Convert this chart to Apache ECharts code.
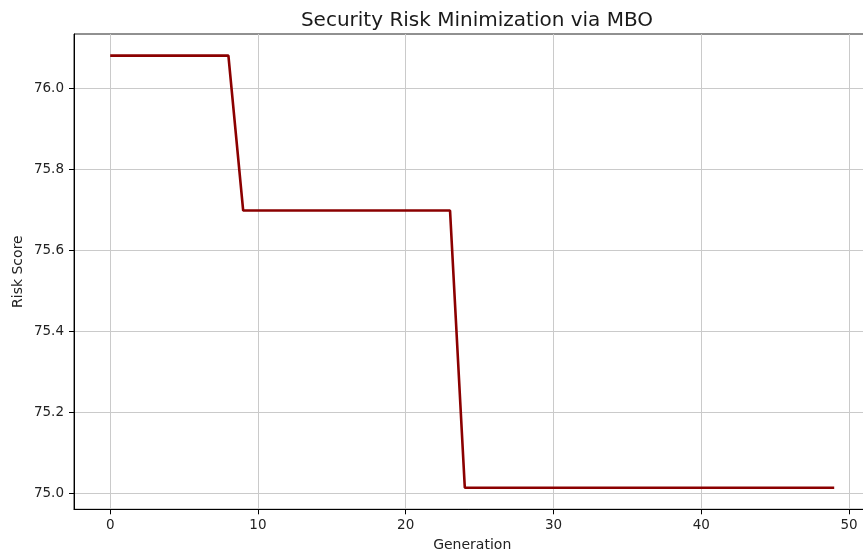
<!DOCTYPE html>
<html>
<head>
<meta charset="utf-8">
<style>
  html, body { margin: 0; padding: 0; background: #fff; }
  #chart { width: 863px; height: 553px; }
</style>
<script src="https://cdn.jsdelivr.net/npm/echarts@6/dist/echarts.min.js"></script>
</head>
<body>
<div id="chart"></div>
<script>
const titleText = 'Security Risk Minimization via MBO';
const xAxisName = 'Generation';
const yAxisName = 'Risk Score';
const generations = Array.from({length: 50}, (_, i) => i);
const riskScores = [
  76.0806, 76.0806, 76.0806, 76.0806, 76.0806, 76.0806, 76.0806, 76.0806, 76.0806,
  75.6985, 75.6985, 75.6985, 75.6985, 75.6985, 75.6985, 75.6985, 75.6985, 75.6985, 75.6985,
  75.6985, 75.6985, 75.6985, 75.6985, 75.6985,
  75.0148, 75.0148, 75.0148, 75.0148, 75.0148, 75.0148, 75.0148, 75.0148, 75.0148, 75.0148,
  75.0148, 75.0148, 75.0148, 75.0148, 75.0148, 75.0148, 75.0148, 75.0148, 75.0148, 75.0148,
  75.0148, 75.0148, 75.0148, 75.0148, 75.0148, 75.0148
];
const xTicks = [0, 10, 20, 30, 40, 50];
const yTicks = [75.0, 75.2, 75.4, 75.6, 75.8, 76.0];

const font = 'DejaVu Sans';
const chart = echarts.init(document.getElementById('chart'), null, {renderer: 'canvas'});

const dataMin = Math.min(...riskScores), dataMax = Math.max(...riskScores);
const yPad = (dataMax - dataMin) * 0.05;
const xPad = (generations[generations.length - 1] - generations[0]) * 0.05;

chart.setOption({
  animation: false,
  backgroundColor: '#fff',
  title: {
    text: titleText,
    left: 472,
    textAlign: 'center',
    top: 6,
    textStyle: { fontFamily: font, fontSize: 20, fontWeight: 'normal', color: '#1a1a1a' }
  },
  grid: {
    left: 74, top: 34, right: -7.4, bottom: 43.7,
    outerBoundsMode: 'none',
    show: true, borderColor: '#222', borderWidth: 1, containLabel: false
  },
  xAxis: {
    type: 'value',
    min: generations[0] - xPad,
    max: generations[generations.length - 1] + xPad,
    name: xAxisName,
    nameLocation: 'middle',
    nameGap: 29,
    nameMoveOverlap: false,
    nameTextStyle: { fontFamily: font, fontSize: 14, color: '#222' },
    axisLine: { show: true, onZero: false, lineStyle: { color: '#000', width: 1 } },
    axisTick: { show: true, length: 5, customValues: xTicks, lineStyle: { color: '#000' } },
    axisLabel: { customValues: xTicks, fontFamily: font, fontSize: 13.5, color: '#222', margin: 9,
      formatter: v => String(v) },
    splitLine: { show: true, customValues: xTicks, lineStyle: { color: '#cacaca', width: 1 } }
  },
  yAxis: {
    type: 'value',
    min: dataMin - yPad,
    max: dataMax + yPad,
    name: yAxisName,
    nameLocation: 'middle',
    nameGap: 49,
    nameMoveOverlap: false,
    nameRotate: 90,
    nameTextStyle: { fontFamily: font, fontSize: 14, color: '#222' },
    axisLine: { show: true, onZero: false, lineStyle: { color: '#000', width: 1 } },
    axisTick: { show: true, length: 5, customValues: yTicks, lineStyle: { color: '#000' } },
    axisLabel: { customValues: yTicks, fontFamily: font, fontSize: 13.5, color: '#222', margin: 10,
      formatter: v => v.toFixed(1) },
    splitLine: { show: true, customValues: yTicks, lineStyle: { color: '#cacaca', width: 1 } }
  },
  series: [{
    type: 'line',
    data: generations.map((g, i) => [g, riskScores[i]]),
    showSymbol: false,
    symbol: 'none',
    lineStyle: { color: '#8b0000', width: 2.6 },
    clip: false
  }]
});
</script>
</body>
</html>
